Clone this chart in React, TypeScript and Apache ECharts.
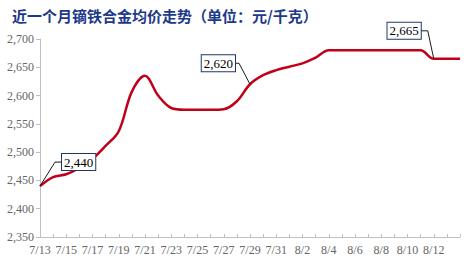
import React, { useEffect, useRef } from "react";
import * as echarts from "echarts";

const dates = [
  "7/13", "7/14", "7/15", "7/16", "7/17", "7/18", "7/19", "7/20", "7/21", "7/22",
  "7/23", "7/24", "7/25", "7/26", "7/27", "7/28", "7/29", "7/30", "7/31", "8/1",
  "8/2", "8/3", "8/4", "8/5", "8/6", "8/7", "8/8", "8/9", "8/10", "8/11",
  "8/12", "8/13", "8/14",
];

const prices = [
  2440, 2456, 2461, 2472, 2488, 2511, 2537, 2607, 2635, 2600,
  2578, 2575, 2575, 2575, 2576, 2590, 2620, 2636, 2645, 2651,
  2657, 2667, 2680, 2680, 2680, 2680, 2680, 2680, 2680, 2680,
  2665, 2665, 2665,
];

const yMin = 2350;
const yMax = 2700;
const yStep = 50;

// dates whose price is called out in a boxed label
const calloutDates = ["7/13", "7/29", "8/12"];

const title = "近一个月镝铁合金均价走势（单位：元/千克）";

const fmt = (v: number) => v.toLocaleString("en-US");

export default function App() {
  const ref = useRef<HTMLDivElement>(null);

  useEffect(() => {
    const chart = echarts.init(ref.current!, null, { renderer: "svg" });
    const serif = '"Liberation Serif", "Times New Roman", serif';
    chart.setOption({
      animation: false,
      backgroundColor: "#ffffff",
      title: {
        text: title,
        left: 7,
        top: 3,
        textStyle: {
          fontFamily: '"Noto Sans CJK SC", sans-serif',
          fontSize: 15,
          fontWeight: "bold",
          color: "#1c3a88",
        },
      },
      grid: { left: 40, right: 13, top: 39, bottom: 28, containLabel: false },
      xAxis: {
        type: "category",
        data: dates,
        boundaryGap: false,
        axisLine: { lineStyle: { color: "#bfbfbf", width: 1 } },
        axisTick: { inside: true, length: 3, interval: 0, lineStyle: { color: "#bfbfbf" } },
        axisLabel: {
          interval: (i: number) => i % 2 === 0 && i <= 30,
          color: "#666666",
          fontFamily: serif,
          fontSize: 12,
          margin: 7,
        },
        splitLine: { show: false },
      },
      yAxis: {
        type: "value",
        min: yMin,
        max: yMax,
        interval: yStep,
        axisLine: { show: true, lineStyle: { color: "#bfbfbf", width: 1 } },
        axisTick: { show: true, length: 4, lineStyle: { color: "#bfbfbf" } },
        axisLabel: {
          color: "#666666",
          fontFamily: serif,
          fontSize: 12,
          margin: 6,
          formatter: (v: number) => fmt(v),
        },
        splitLine: { show: false },
      },
      series: [
        {
          type: "line",
          data: prices,
          smooth: 0.35,
          showSymbol: false,
          lineStyle: { color: "#c00018", width: 2.5 },
        },
      ],
    });

    // boxed value callouts with a bent leader line
    const layouts: Record<string, { ex: number; ey: number; gap: number; side: "left" | "right" }> = {
      "7/13": { ex: 15, ey: -24, gap: 7, side: "left" },
      "7/29": { ex: -11, ey: -21, gap: 4, side: "right" },
      "8/12": { ex: -6, ey: -28, gap: 7, side: "right" },
    };
    const graphics: any[] = [];
    calloutDates.forEach((d) => {
      const idx = dates.indexOf(d);
      const value = prices[idx];
      const [px, py] = chart.convertToPixel({ seriesIndex: 0 }, [idx, value]) as number[];
      const l = layouts[d];
      const ex = px + l.ex;
      const ey = py + l.ey;
      const bx = l.side === "left" ? ex + l.gap : ex - l.gap;
      graphics.push({
        type: "polyline",
        shape: { points: [[px, py], [ex, ey], [bx, ey]] },
        style: { stroke: "#1a1a1a", lineWidth: 1, fill: null },
        z: 10,
      });
      graphics.push({
        type: "text",
        x: bx,
        y: ey,
        style: {
          text: fmt(value),
          font: `13px ${serif}`,
          fill: "#000000",
          align: l.side,
          verticalAlign: "middle",
          backgroundColor: "#ffffff",
          borderColor: "#1f3864",
          borderWidth: 1,
          padding: [2, 2, 1, 2],
        },
        z: 11,
      });
    });
    chart.setOption({ graphic: graphics });

    return () => chart.dispose();
  }, []);

  return (
    <div
      ref={ref}
      style={{ position: "fixed", left: 0, top: 0, width: 473, height: 265 }}
    />
  );
}
